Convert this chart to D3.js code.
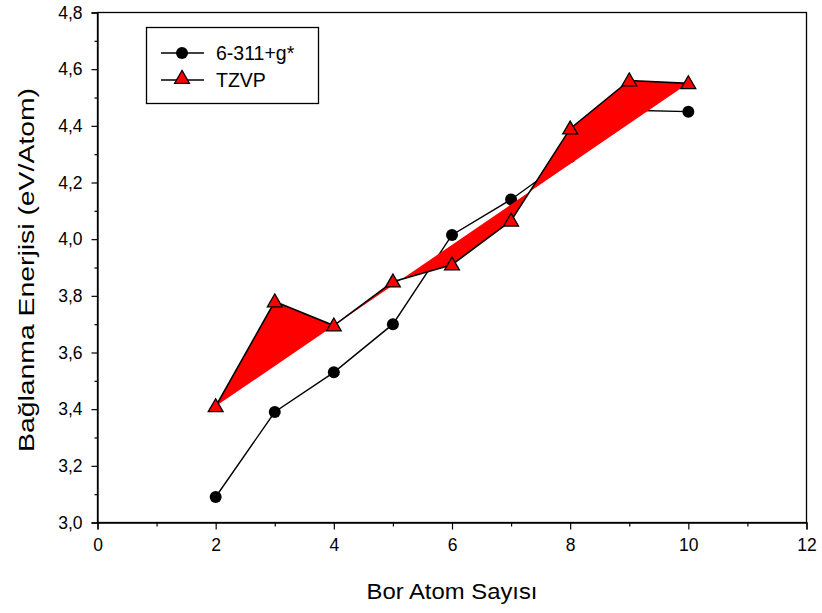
<!DOCTYPE html>
<html>
<head>
<meta charset="utf-8">
<script src="https://cdn.jsdelivr.net/npm/d3@7"></script>
<style>
  body { margin: 0; background: #fff; }
  svg { display: block; font-family: "Liberation Sans", Arial, sans-serif; }
</style>
</head>
<body>
<svg width="822" height="613"></svg>
<script>
// atom counts
var atoms = [2, 3, 4, 5, 6, 7, 8, 9, 10];
// binding energies (eV/atom)
var basis631 = [3.09, 3.39, 3.53, 3.70, 4.015, 4.14, 4.29, 4.455, 4.45];
var tzvp = [3.41, 3.78, 3.695, 3.85, 3.91, 4.065, 4.39, 4.56, 4.55];
var xTicks = [0, 2, 4, 6, 8, 10, 12];
var yTicks = [3.0, 3.2, 3.4, 3.6, 3.8, 4.0, 4.2, 4.4, 4.6, 4.8];
var seriesNames = ["6-311+g*", "TZVP"];

var svg = d3.select("svg");
var pLeft = 97.5, pRight = 806.5, pTop = 12.5, pBottom = 522.5;

var x = d3.scaleLinear().domain([0, 12]).range([pLeft, pRight]);
var y = d3.scaleLinear().domain([3.0, 4.8]).range([pBottom, pTop]);

var fmt = function(d) { return d3.format(".1f")(d).replace(".", ","); };

// frame
svg.append("rect")
    .attr("x", pLeft).attr("y", pTop)
    .attr("width", pRight - pLeft).attr("height", pBottom - pTop)
    .attr("fill", "none").attr("stroke", "#000").attr("stroke-width", 1.3);

// minor ticks
var xMinor = d3.range(1, 12, 2);
var yMinor = d3.range(3.1, 4.8, 0.2);

svg.append("g").attr("transform", "translate(0," + pBottom + ")")
    .call(d3.axisBottom(x).tickValues(xTicks).tickFormat(d3.format("d")).tickSize(7).tickPadding(9));
svg.append("g").attr("transform", "translate(0," + pBottom + ")")
    .call(d3.axisBottom(x).tickValues(xMinor).tickFormat("").tickSize(4))
    .select(".domain").remove();

svg.append("g").attr("transform", "translate(" + pLeft + ",0)")
    .call(d3.axisLeft(y).tickValues(yTicks).tickFormat(fmt).tickSize(6).tickPadding(9));
svg.append("g").attr("transform", "translate(" + pLeft + ",0)")
    .call(d3.axisLeft(y).tickValues(yMinor).tickFormat("").tickSize(3))
    .select(".domain").remove();

svg.selectAll(".tick line").attr("stroke-width", 1.2);
svg.selectAll(".domain").attr("stroke-width", 1.3);
svg.selectAll(".tick text")
    .attr("font-size", 17.5).attr("fill", "#000")
    .attr("font-family", "Liberation Sans, Arial, sans-serif");

// axis titles
svg.append("text")
    .attr("x", (pLeft + pRight) / 2).attr("y", 599)
    .attr("text-anchor", "middle").attr("font-size", 22)
    .attr("textLength", 171).attr("lengthAdjust", "spacingAndGlyphs")
    .text("Bor Atom Sayısı");
svg.append("text")
    .attr("transform", "translate(34,270) rotate(-90)")
    .attr("text-anchor", "middle").attr("font-size", 22)
    .attr("textLength", 364).attr("lengthAdjust", "spacingAndGlyphs")
    .text("Bağlanma Enerjisi (eV/Atom)");

var pts1 = atoms.map(function(a, i) { return [a, basis631[i]]; });
var pts2 = atoms.map(function(a, i) { return [a, tzvp[i]]; });

var line = d3.line()
    .x(function(d) { return x(d[0]); })
    .y(function(d) { return y(d[1]); });

// 6-311+g* series
svg.append("path")
    .attr("d", line(pts1))
    .attr("fill", "none").attr("stroke", "#000").attr("stroke-width", 1.4);
svg.append("g").selectAll("circle")
    .data(pts1).enter()
    .append("circle")
    .attr("cx", function(d) { return x(d[0]); })
    .attr("cy", function(d) { return y(d[1]); })
    .attr("r", 6)
    .attr("fill", "#000");

// TZVP series (path filled red, as in the original)
svg.append("path")
    .attr("d", line(pts2))
    .attr("fill", "#ff0000").attr("stroke", "#000").attr("stroke-width", 1.6);

var tri = d3.symbol().type(d3.symbolTriangle).size(95);
svg.append("g").selectAll("path")
    .data(pts2).enter()
    .append("path")
    .attr("d", tri)
    .attr("transform", function(d) { return "translate(" + x(d[0]) + "," + (y(d[1]) + 1) + ")"; })
    .attr("fill", "#ff0000").attr("stroke", "#000").attr("stroke-width", 1.3);

// legend
var lg = svg.append("g");
lg.append("rect")
    .attr("x", 146.5).attr("y", 27.5).attr("width", 172).attr("height", 76)
    .attr("fill", "#fff").attr("stroke", "#000").attr("stroke-width", 1.3);

seriesNames.forEach(function(name, i) {
    var ly = 53 + i * 27;
    lg.append("line")
        .attr("x1", 161).attr("x2", 204).attr("y1", ly).attr("y2", ly)
        .attr("stroke", "#000").attr("stroke-width", 1.4);
    if (i === 0) {
        lg.append("circle").attr("cx", 182).attr("cy", ly).attr("r", 6).attr("fill", "#000");
    } else {
        lg.append("path").attr("d", tri)
            .attr("transform", "translate(182," + (ly - 1) + ")")
            .attr("fill", "#ff0000").attr("stroke", "#000").attr("stroke-width", 1.3);
    }
    lg.append("text")
        .attr("x", 216).attr("y", ly + 7)
        .attr("font-size", 19.5)
        .text(name);
});
</script>
</body>
</html>
